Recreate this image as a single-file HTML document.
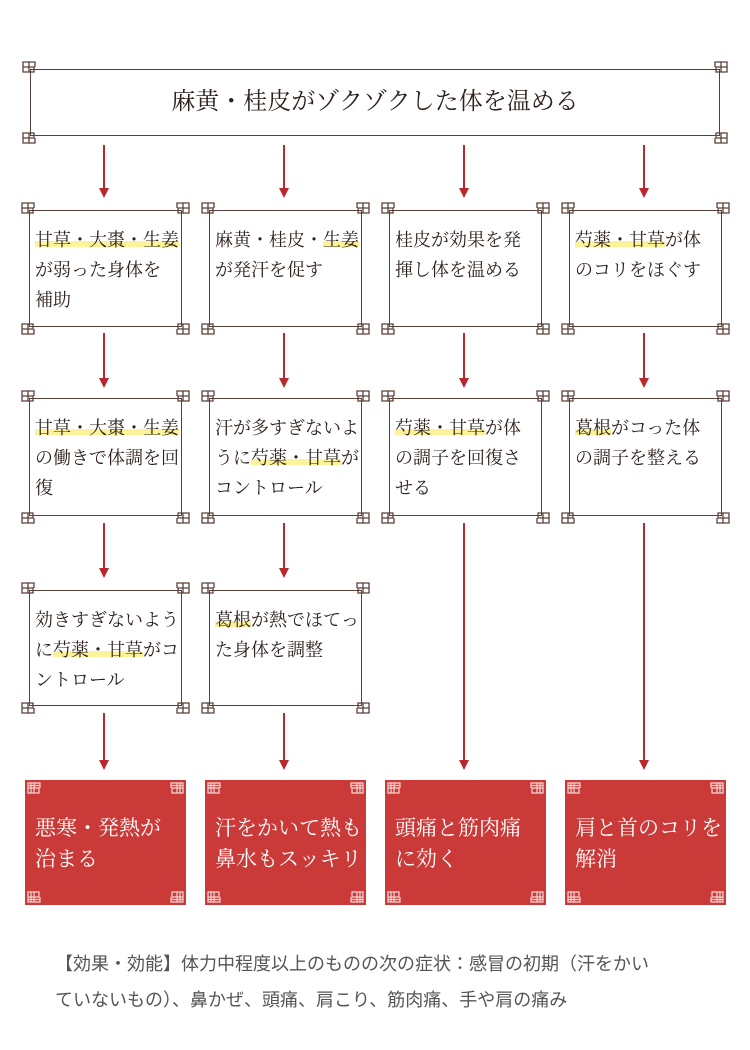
<!DOCTYPE html>
<html><head><meta charset="utf-8">
<style>
body{margin:0;width:750px;height:1050px;background:#fff;position:relative;overflow:hidden;font-family:"Liberation Serif","Noto Serif CJK JP",serif;}
.f{position:absolute;border:1.5px solid #5a4038;box-sizing:border-box;background:rgba(255,255,255,0.75);}
.t{position:absolute;color:#2e211c;font-size:18px;line-height:30px;letter-spacing:0px}
.h{background:linear-gradient(transparent 55%,#fbf29a 55%,#fbf29a 85%,transparent 85%);}
.r{position:absolute;background:#c93a38;color:#fff;font-size:21px;line-height:31px;box-sizing:border-box;padding:33px 0 0 10px;}
.a{position:absolute;width:2px;background:#b8282e;}
.a:after{content:"";position:absolute;left:-4px;bottom:-8px;border-left:5px solid transparent;border-right:5px solid transparent;border-top:10px solid #b8282e;}
svg.c{position:absolute;width:16px;height:16px;overflow:visible}
</style></head><body>
<svg width="0" height="0" style="position:absolute"><defs>
<g id="orn"><path d="M1 1h6v5h5v5h-5v-5h-6zM7 1h6v5M1 6v5h6" fill="none" stroke="#5a4038" stroke-width="1.3"/></g>
<g id="ornw"><path d="M1 1h6v5h5v5h-5v-5h-6zM7 1h6v5M1 6v5h6M4 1v10M1 3.5h12" fill="none" stroke="#f2d6d4" stroke-width="1.2"/></g>
</defs></svg>

<div id="root"></div>
<script>
function frame(x,y,w,h){
  let s='<div class="f" style="left:'+x+'px;top:'+y+'px;width:'+w+'px;height:'+h+'px"></div>';
  const cs=[[x-8,y-8,1,1],[x+w-8,y-8,-1,1],[x-8,y+h-8,1,-1],[x+w-8,y+h-8,-1,-1]];
  for(const c of cs){s+='<svg class="c" style="left:'+c[0]+'px;top:'+c[1]+'px" viewBox="0 0 16 16"><use href="#orn" transform="translate('+(c[2]<0?16:0)+','+(c[3]<0?16:0)+') scale('+c[2]+','+c[3]+')"/></svg>';}
  return s;
}
function red(x,y,w,h,txt){
  let s='<div class="r" style="left:'+x+'px;top:'+y+'px;width:'+w+'px;height:'+h+'px">'+txt+'</div>';
  const cs=[[x+2,y+2,1,1],[x+w-18,y+2,-1,1],[x+2,y+h-18,1,-1],[x+w-18,y+h-18,-1,-1]];
  for(const c of cs){s+='<svg class="c" style="left:'+c[0]+'px;top:'+c[1]+'px" viewBox="0 0 16 16"><use href="#ornw" transform="translate('+(c[2]<0?16:0)+','+(c[3]<0?16:0)+') scale('+c[2]+','+c[3]+')"/></svg>';}
  return s;
}
function arrow(x,y1,y2){return '<div class="a" style="left:'+(x-1)+'px;top:'+y1+'px;height:'+(y2-y1-8)+'px"></div>';}
let h='';
h+=frame(30,69,690,67);
h+='<div class="t" style="left:30px;top:87px;width:690px;text-align:center;font-size:24px;">麻黄・桂皮がゾクゾクした体を温める</div>';
const xs=[29,209,389,569];
const rows=[[210,117],[398,118],[590,116]];
const texts=[
 ['<span class="h">甘草・大棗・生姜</span><br>が弱った身体を<br>補助','麻黄・桂皮・<span class="h">生姜</span><br>が発汗を促す','桂皮が効果を発<br>揮し体を温める','<span class="h">芍薬・甘草</span>が体<br>のコリをほぐす'],
 ['<span class="h">甘草・大棗・生姜</span><br>の働きで体調を回<br>復','汗が多すぎないよ<br>うに<span class="h">芍薬・甘草</span>が<br>コントロール','<span class="h">芍薬・甘草</span>が体<br>の調子を回復さ<br>せる','<span class="h">葛根</span>がコった体<br>の調子を整える'],
 ['効きすぎないよう<br>に<span class="h">芍薬・甘草</span>がコ<br>ントロール','<span class="h">葛根</span>が熱でほてっ<br>た身体を調整',null,null]];
for(let r=0;r<3;r++)for(let c=0;c<4;c++){
  if(!texts[r][c])continue;
  h+=frame(xs[c],rows[r][0],153,rows[r][1]);
  h+='<div class="t" style="left:'+(xs[c]+6)+'px;top:'+(rows[r][0]+15)+'px">'+texts[r][c]+'</div>';
}
const ax=[104,284,464,644];
for(const x of ax)h+=arrow(x,145,198);
for(const x of ax)h+=arrow(x,333,388);
h+=arrow(104,523,578);h+=arrow(284,523,578);
h+=arrow(464,523,770);h+=arrow(644,523,770);
h+=arrow(104,713,770);h+=arrow(284,713,770);
const rt=['悪寒・発熱が<br>治まる','汗をかいて熱も<br>鼻水もスッキリ','頭痛と筋肉痛<br>に効く','肩と首のコリを<br>解消'];
const rx=[25,205,385,565];
for(let i=0;i<4;i++)h+=red(rx[i],780,161,125,rt[i]);
h+='<div style="position:absolute;left:55px;top:946px;width:670px;font-family:\'Liberation Sans\',\'Noto Sans CJK JP\',sans-serif;font-size:18px;line-height:36px;color:#555">【効果・効能】体力中程度以上のものの次の症状：感冒の初期（汗をかい<br>ていないもの）、鼻かぜ、頭痛、肩こり、筋肉痛、手や肩の痛み</div>';
document.getElementById('root').innerHTML=h;
</script>
</body></html>
